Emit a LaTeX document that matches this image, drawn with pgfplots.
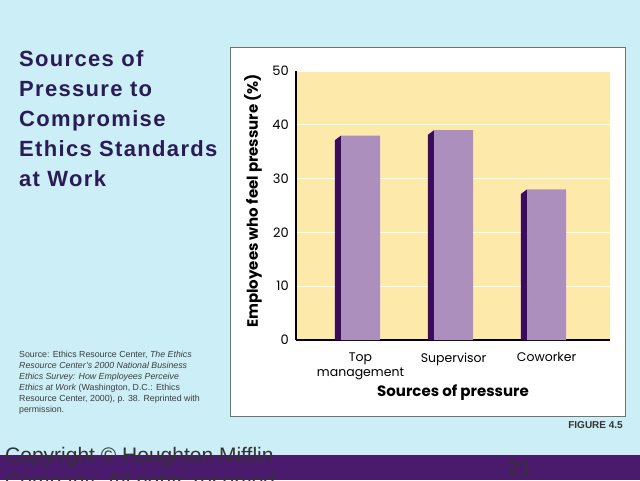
\documentclass[border=0pt]{standalone}
\usepackage{fontspec}
\setmainfont{Liberation Sans}
\newfontfamily\titlefont[LetterSpace=6]{Liberation Sans}
\newfontfamily\chartfont{Poppins}
\usepackage{pgfplots}
\pgfplotsset{compat=1.18}

\definecolor{slidebg}{RGB}{204,238,247}
\definecolor{footbar}{RGB}{74,26,108}
\definecolor{titlecol}{RGB}{43,27,85}
\definecolor{notecol}{RGB}{60,60,60}
\definecolor{cream}{RGB}{253,233,170}
\definecolor{barfront}{RGB}{173,143,190}
\definecolor{barside}{RGB}{59,11,94}

\begin{document}
\begin{tikzpicture}[x=1pt,y=1pt]
\useasboundingbox (0,0) rectangle (640,480);
\clip (0,0) rectangle (640,480);
\fill[slidebg] (0,0) rectangle (640,480);
\fill[footbar] (0,0) rectangle (640,25);

% slide text
\foreach \t [count=\i from 0] in {Sources of,Pressure to,Compromise,Ethics Standards,at Work}
  \node[anchor=base west, inner sep=0pt, text=titlecol,
        font=\titlefont\bfseries\fontsize{22}{26}\selectfont] at (19,413.3-30*\i) {\t};

\foreach \t [count=\i from 0] in {
    {Source: Ethics Resource Center, \textit{The Ethics}},
    {\textit{Resource Center's 2000 National Business}},
    {\textit{Ethics Survey: How Employees Perceive}},
    {\textit{Ethics at Work} (Washington, D.C.: Ethics},
    {Resource Center, 2000), p. 38. Reprinted with},
    {permission.}}
  \node[anchor=base west, inner sep=0pt, text=notecol,
        font=\fontsize{8.8}{10}\selectfont] at (19,123-11*\i) {\t};

\node[anchor=base west, inner sep=0pt, text=black!80,
      font=\fontsize{21}{26}\selectfont] at (5,18) {Copyright © Houghton Mifflin};
\node[anchor=base west, inner sep=0pt, text=black!80,
      font=\fontsize{21}{26}\selectfont] at (5,-8) {Company. All rights reserved.};
\node[anchor=base west, inner sep=0pt, text=black!80,
      font=\fontsize{21}{26}\selectfont] at (508,5) {21};

% chart panel
\filldraw[fill=white, draw=black!55, line width=0.8pt] (230,64) rectangle (625,433);
\node[anchor=base east, inner sep=0pt, text=black!80,
      font=\bfseries\fontsize{10}{12}\selectfont] at (623,52) {FIGURE 4.5};

\begin{axis}[
  at={(296pt,140pt)}, anchor=south west,
  width=314pt, height=269pt, scale only axis,
  xmin=-0.694, xmax=2.682, ymin=0, ymax=50,
  axis x line*=bottom, axis y line*=left,
  axis line style={-, line width=1.2pt, black},
  axis background/.style={fill=cream},
  ymajorgrids, major grid style={white, line width=1.2pt},
  ytick={0,10,...,50},
  xtick={0,1,2},
  xticklabels={{Top\\management},Supervisor,Coworker},
  major tick length=0pt,
  /pgf/number format/assume math mode=true,
  tick label style={text=black},
  yticklabel style={font=\chartfont\fontsize{13}{15}\selectfont, inner sep=0pt, anchor=east, xshift=-7pt},
  xticklabel style={font=\chartfont\fontsize{12.5}{15}\selectfont, inner sep=0pt, anchor=north, align=center, yshift=-12.5pt},
  label style={font=\chartfont\bfseries\fontsize{15}{17}\selectfont},
  xlabel={Sources of pressure},
  ylabel={Employees who feel pressure (\%)},
  xlabel style={at={(axis description cs:0.5,-0.197)}, anchor=center},
  ylabel style={at={(axis description cs:-0.137,0.517)}, anchor=center},
]
% dark side faces of the bars
\addplot[fill=barside, draw=none] coordinates {(-0.275,0) (-0.275,37.15) (-0.21,38) (-0.21,0)} \closedcycle;
\addplot[fill=barside, draw=none] coordinates {(0.725,0) (0.725,38.15) (0.79,39) (0.79,0)} \closedcycle;
\addplot[fill=barside, draw=none] coordinates {(1.725,0) (1.725,27.15) (1.79,28) (1.79,0)} \closedcycle;
% front faces
\addplot[ybar, bar width=0.42, bar shift=0pt, fill=barfront, draw=none]
  coordinates {(0,38) (1,39) (2,28)};
\end{axis}
\end{tikzpicture}
\end{document}
